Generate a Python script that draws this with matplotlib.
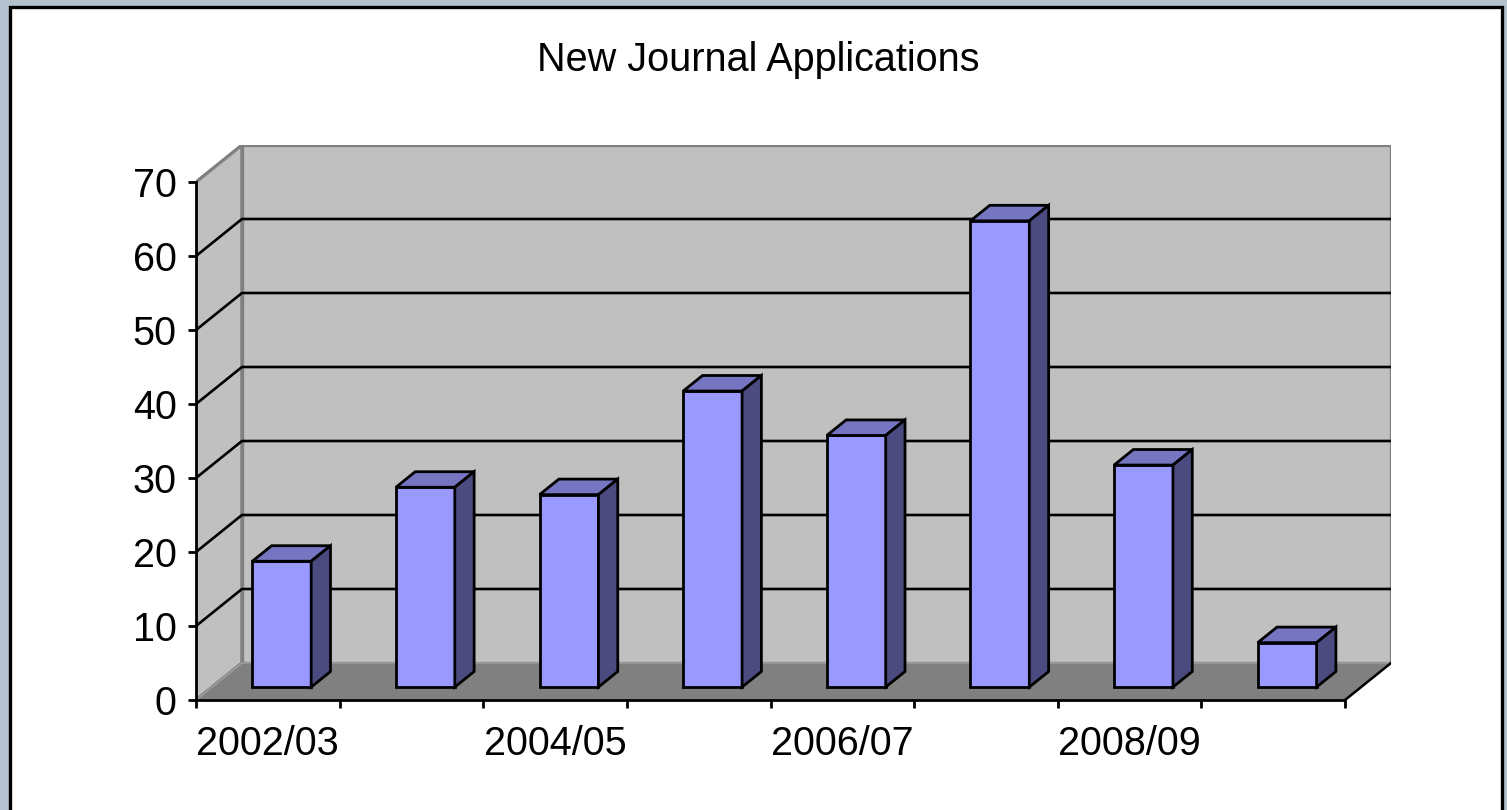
import numpy as np
import matplotlib.pyplot as plt
from matplotlib.patches import Rectangle, Polygon

plt.rcParams['font.family'] = ['Liberation Sans', 'DejaVu Sans']

# data
years = ['2002/03', '2003/04', '2004/05', '2005/06',
         '2006/07', '2007/08', '2008/09', '2009/10']
applications = [17, 27, 26, 40, 34, 63, 30, 6]
y_ticks = [0, 10, 20, 30, 40, 50, 60, 70]

# fake 3d geometry (data units)
DX = 0.32      # depth offset along x (categories)
DY = 5.0       # depth offset along y (values)
F0 = 0.35      # bar front depth fraction
FD = 0.42      # bar depth fraction
BW = 0.41      # bar width
YMAX = 70
LW = 2.0

n = len(years)

fig = plt.figure(figsize=(15.07, 8.10), dpi=100, facecolor='#b3c2ce')

# white chart area with black frame
fig.patches.append(Rectangle((9.5 / 1507, -0.02), 1492 / 1507, 1.02 - 6.5 / 810,
                             transform=fig.transFigure, facecolor='white',
                             edgecolor='black', linewidth=2.4, zorder=-10))

ax = fig.add_axes([196 / 1507, 110 / 810, 1195 / 1507, 555 / 810])
ax.set_facecolor('none')
ax.set_xlim(0, n + DX)
ax.set_ylim(0, YMAX + DY)

# walls and floor
ax.add_patch(Polygon([(DX, DY), (n + DX, DY), (n + DX, YMAX + DY), (DX, YMAX + DY)],
                     closed=True, facecolor='#c0c0c0', edgecolor='#808080',
                     linewidth=2.4, zorder=1))
ax.add_patch(Polygon([(0, 0), (DX, DY), (DX, YMAX + DY), (0, YMAX)],
                     closed=True, facecolor='#c0c0c0', edgecolor='#808080',
                     linewidth=2.4, zorder=1))
ax.add_patch(Polygon([(0, 0), (n, 0), (n + DX, DY), (DX, DY)],
                     closed=True, facecolor='#808080', edgecolor='#a0a0a0',
                     linewidth=1, zorder=1))
ax.plot([n, n + DX], [0, DY], color='black', lw=1.8, zorder=2)

# gridlines (left wall + back wall)
for v in y_ticks[1:-1]:
    ax.plot([0, DX, n + DX], [v, v + DY, v + DY], color='black', lw=1.9, zorder=2)

# bars: front faces
x = np.arange(n) + 0.485
x0 = x + F0 * DX
b0 = F0 * DY
ax.bar(x0, applications, width=BW, bottom=b0, color='#9999ff',
       edgecolor='black', linewidth=LW, zorder=4)

# bars: top and side faces
ddx = FD * DX
ddy = FD * DY
for xi, v in zip(x0, applications):
    l, r = xi - BW / 2, xi + BW / 2
    top = b0 + v
    ax.add_patch(Polygon([(l, top), (r, top), (r + ddx, top + ddy), (l + ddx, top + ddy)],
                         closed=True, facecolor='#7575c2', edgecolor='black',
                         linewidth=LW, joinstyle='miter', zorder=4))
    ax.add_patch(Polygon([(r, b0), (r + ddx, b0 + ddy), (r + ddx, top + ddy), (r, top)],
                         closed=True, facecolor='#4b4b80', edgecolor='black',
                         linewidth=LW, joinstyle='miter', zorder=4))

# axes
for s in ['top', 'right']:
    ax.spines[s].set_visible(False)
ax.spines['left'].set_bounds(0, YMAX)
ax.spines['bottom'].set_bounds(0, n)
for s in ['left', 'bottom']:
    ax.spines[s].set_linewidth(LW)
    ax.spines[s].set_zorder(5)

ax.set_yticks(y_ticks)
ax.set_yticklabels([str(t) for t in y_ticks])
ax.tick_params(axis='y', length=6, width=LW, pad=8, labelsize=28.5)

ax.set_xticks(np.arange(n + 1))
ax.set_xticklabels([])
ax.tick_params(axis='x', which='major', length=5.5, width=LW)
ax.set_xticks(np.arange(n) + 0.5, minor=True)
ax.set_xticklabels([y if i % 2 == 0 else '' for i, y in enumerate(years)], minor=True)
ax.tick_params(axis='x', which='minor', length=0, pad=18, labelsize=28.5)

fig.text(758 / 1507, 1 - 60 / 810, 'New Journal Applications',
         ha='center', va='center', fontsize=28.5)

fig.savefig('out.png', dpi=100, facecolor=fig.get_facecolor())
